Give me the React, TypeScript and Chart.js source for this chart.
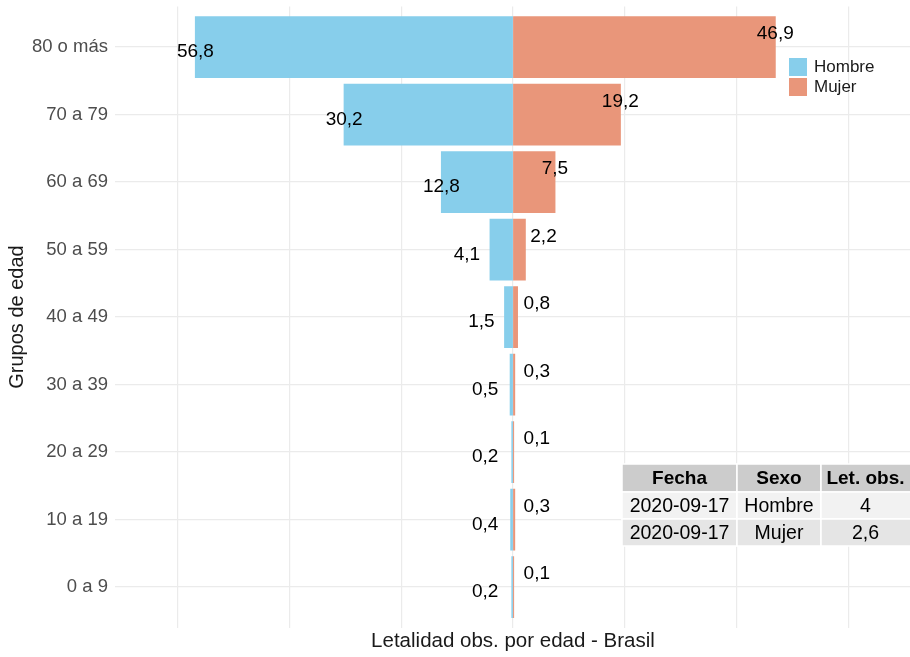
import React, { useEffect, useRef } from "react";
import { Chart, registerables } from "chart.js";

Chart.register(...registerables);

const ageGroups = ["0 a 9", "10 a 19", "20 a 29", "30 a 39", "40 a 49", "50 a 59", "60 a 69", "70 a 79", "80 o más"];
const hombre = [0.2, 0.4, 0.2, 0.5, 1.5, 4.1, 12.8, 30.2, 56.8];
const mujer = [0.1, 0.3, 0.1, 0.3, 0.8, 2.2, 7.5, 19.2, 46.9];
const xGridValues = [-60, -40, -20, 0, 20, 40, 60];
const seriesNames = ["Hombre", "Mujer"];
const seriesColors = ["#87CEEB", "#E9967A"];
const tableHeader = ["Fecha", "Sexo", "Let. obs."];
const tableRows = [
  ["2020-09-17", "Hombre", "4"],
  ["2020-09-17", "Mujer", "2,6"],
];
const xTitle = "Letalidad obs. por edad - Brasil";
const yTitle = "Grupos de edad";

const FONT = '"Liberation Sans", Arial, Helvetica, sans-serif';

const fmt = (v: number) => String(v).replace(".", ",");

const overlayPlugin = {
  id: "overlay",
  afterDatasetsDraw(chart: any) {
    const ctx = chart.ctx;
    ctx.save();
    ctx.font = `19px ${FONT}`;
    ctx.fillStyle = "#000";
    ctx.textBaseline = "middle";
    chart.data.datasets.forEach((ds: any, di: number) => {
      const meta = chart.getDatasetMeta(di);
      meta.data.forEach((el: any, i: number) => {
        const raw = di === 0 ? hombre[i] : mujer[i];
        const text = fmt(raw);
        const base = el.base;
        const x = el.x;
        if (di === 0) {
          const len = base - x;
          const y = el.y + 5;
          if (len > 40) {
            ctx.textAlign = "center";
            ctx.fillText(text, x, y);
          } else {
            ctx.textAlign = "right";
            ctx.fillText(text, Math.min(x - 10, base - 14), y);
          }
        } else {
          const len = x - base;
          const y = el.y - 13;
          if (len > 40) {
            ctx.textAlign = "center";
            ctx.fillText(text, x, y);
          } else {
            ctx.textAlign = "left";
            ctx.fillText(text, Math.max(x + 5, base + 10), y);
          }
        }
      });
    });
    ctx.restore();
  },
  afterDraw(chart: any) {
    const ctx = chart.ctx;
    const area = chart.chartArea;
    ctx.save();
    // axis titles
    ctx.fillStyle = "#1a1a1a";
    ctx.font = `20.5px ${FONT}`;
    ctx.textAlign = "center";
    ctx.textBaseline = "middle";
    ctx.fillText(xTitle, (area.left + area.right) / 2 + 0.5, 641);
    ctx.save();
    ctx.font = `20px ${FONT}`;
    ctx.translate(17, 317);
    ctx.rotate(-Math.PI / 2);
    ctx.fillText(yTitle, 0, 0);
    ctx.restore();

    // legend
    ctx.font = `17px ${FONT}`;
    ctx.textAlign = "left";
    seriesNames.forEach((name, i) => {
      const top = 58 + i * 20;
      ctx.fillStyle = seriesColors[i];
      ctx.fillRect(789, top, 18, 18);
      ctx.fillStyle = "#1a1a1a";
      ctx.fillText(name, 814, top + 9.5);
    });

    // table
    const colX = [622, 737, 821, 912];
    const rowY = [464, 492, 519, 546];
    const fills = ["#cccccc", "#f2f2f2", "#e5e5e5"];
    const rows = [tableHeader, ...tableRows];
    rows.forEach((row, r) => {
      row.forEach((cell, c) => {
        const x0 = colX[c];
        const x1 = colX[c + 1];
        const y0 = rowY[r];
        const y1 = rowY[r + 1];
        ctx.fillStyle = fills[r];
        ctx.fillRect(x0, y0, x1 - x0, y1 - y0);
        ctx.strokeStyle = "#ffffff";
        ctx.lineWidth = 1.5;
        ctx.strokeRect(x0, y0, x1 - x0, y1 - y0);
        ctx.fillStyle = "#000";
        ctx.font = r === 0 ? `bold 19px ${FONT}` : `19.5px ${FONT}`;
        ctx.textAlign = "center";
        ctx.fillText(cell, (x0 + Math.min(x1, 910)) / 2, (y0 + y1) / 2 + 1);
      });
    });
    ctx.restore();
  },
};

export default function App() {
  const canvasRef = useRef<HTMLCanvasElement | null>(null);

  useEffect(() => {
    if (!canvasRef.current) return;
    const chart = new Chart(canvasRef.current, {
      type: "bar",
      data: {
        datasets: [
          {
            label: seriesNames[0],
            data: hombre.map((v, i) => ({ x: -v, y: i })),
            backgroundColor: seriesColors[0],
            borderWidth: 0,
            inflateAmount: 0.5,
            categoryPercentage: 0.9,
            barPercentage: 1,
          },
          {
            label: seriesNames[1],
            data: mujer.map((v, i) => ({ x: v, y: i })),
            backgroundColor: seriesColors[1],
            borderWidth: 0,
            inflateAmount: 0.5,
            categoryPercentage: 0.9,
            barPercentage: 1,
          },
        ],
      },
      options: {
        indexAxis: "y",
        responsive: false,
        animation: false,
        layout: { padding: { top: 6.5, left: 0, right: 0, bottom: 0 } },
        plugins: {
          legend: { display: false },
          tooltip: { enabled: false },
        },
        scales: {
          x: {
            type: "linear",
            stacked: true,
            bounds: "data",
            offset: false,
            min: -71.18,
            max: 71.0,
            ticks: { display: false },
            afterBuildTicks: (s: any) => {
              s.ticks = xGridValues.map((v) => ({ value: v }));
            },
            grid: { color: "#ebebeb", lineWidth: 1.2, drawTicks: false, offset: false },
            border: { display: false },
            afterFit: (s: any) => {
              s.height = 29.5;
              s.paddingLeft = 0;
              s.paddingRight = 0;
            },
          },
          y: {
            type: "linear",
            stacked: true,
            bounds: "data",
            offset: false,
            min: -0.6,
            max: 8.6,
            afterBuildTicks: (s: any) => {
              s.ticks = ageGroups.map((_, i) => ({ value: i }));
            },
            ticks: {
              autoSkip: false,
              padding: 7,
              color: "#4d4d4d",
              font: { family: FONT, size: 18.5 },
              callback: (v: any) => ageGroups[v] ?? "",
            },
            grid: { color: "#ebebeb", lineWidth: 1.2, drawTicks: false, offset: false },
            border: { display: false },
            afterFit: (s: any) => {
              s.width = 115;
              s.paddingTop = 0;
              s.paddingBottom = 0;
            },
          },
        },
      },
      plugins: [overlayPlugin],
    } as any);
    return () => chart.destroy();
  }, []);

  return (
    <div style={{ position: "absolute", left: 0, top: 0, width: 910, height: 657, background: "#fff" }}>
      <canvas ref={canvasRef} width={910} height={657} style={{ display: "block" }} />
    </div>
  );
}
